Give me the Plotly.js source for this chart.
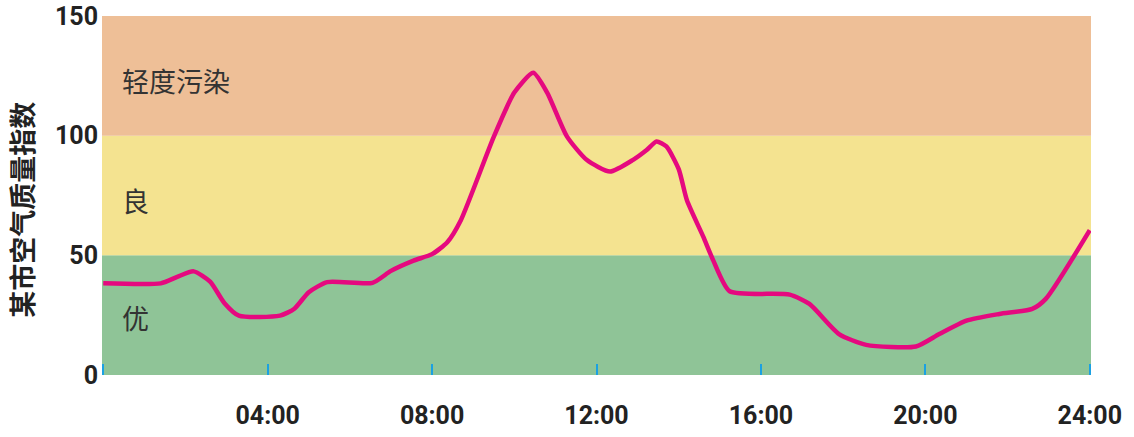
<!DOCTYPE html>
<html>
<head>
<meta charset="utf-8">
<script src="https://cdn.plot.ly/plotly-3.0.1.min.js"></script>
<style>html,body{margin:0;padding:0;background:#fff;}#chart{width:1134px;height:437px;}</style>
</head>
<body>
<div id="chart"></div>
<script>
const hours = [0, 1.4, 1.8, 2.2, 2.6, 2.95, 3.3, 4.3, 4.65, 5.0, 5.45, 6.55, 7.0, 7.55, 8.0, 8.37, 8.7, 9.5, 10.0, 10.46, 10.8, 11.28, 11.76, 12.33, 12.89, 13.22, 13.46, 13.7, 14.0, 14.2, 14.6, 14.84, 15.24, 16.7, 17.18, 17.9, 18.56, 19.77, 20.34, 21.0, 21.8, 22.6, 22.93, 24];
const aqi = [38.3, 38.3, 41, 43.3, 39, 30, 24.8, 24.8, 27.7, 34.6, 38.8, 38.5, 43.5, 47.8, 50.5, 55.5, 64.7, 99.5, 118, 126.3, 118, 99.7, 89.9, 85, 89.9, 94, 97.6, 95.5, 86, 73, 57.7, 47.9, 35, 33.6, 29.7, 17.1, 12.6, 11.9, 17.1, 22.7, 25.5, 27.6, 31.8, 60.5];
const tickHours = [0, 4, 8, 12, 16, 20, 24];
const tickLabels = ['', '04:00', '08:00', '12:00', '16:00', '20:00', '24:00'];
const bandNames = ['优', '良', '轻度污染'];
const bandLow = [0, 50, 100];
const bandHigh = [50, 100, 150];
const bandLabelY = [24, 73, 123];
const yTicks = [0, 50, 100, 150];
const bandColors = ['#8FC497', '#F4E390', '#EEBF97'];
const yTitle = '某市空气质量指数';

const shapes = bandNames.map((n, i) => ({
  type: 'rect', xref: 'paper', yref: 'y', x0: 0, x1: 1,
  y0: bandLow[i], y1: bandHigh[i], fillcolor: bandColors[i],
  line: {width: 0}, layer: 'below'
}));
const annotations = bandNames.map((n, i) => ({
  x: 0.4, y: bandLabelY[i], xref: 'x', yref: 'y', text: n, showarrow: false,
  xanchor: 'left', yanchor: 'middle',
  font: {family: 'Noto Sans CJK SC', size: 27, color: '#333'}
}));
annotations.push({
  xref: 'paper', yref: 'y', x: -0.081, y: 69, text: yTitle, textangle: -90,
  showarrow: false, xanchor: 'center', yanchor: 'middle',
  font: {family: 'Noto Sans CJK SC', size: 27, color: '#222', weight: 'bold'}
});

const trace = {
  x: hours, y: aqi, type: 'scatter', mode: 'lines',
  line: {color: '#E5097F', width: 4.5, shape: 'spline', smoothing: 0.6},
  hoverinfo: 'skip'
};

const tickFont = {family: 'Roboto, Liberation Sans, Arial, sans-serif', size: 25, color: '#222', weight: 'bold'};

const layout = {
  width: 1134, height: 437,
  margin: {l: 102, r: 43, t: 16, b: 62},
  paper_bgcolor: '#fff', plot_bgcolor: '#fff',
  showlegend: false,
  shapes: shapes,
  annotations: annotations,
  xaxis: {
    range: [-0.03, 24.03], tickmode: 'array', tickvals: tickHours, ticktext: tickLabels,
    ticks: 'inside', ticklen: 11, tickwidth: 2, tickcolor: '#1BA1E2',
    showgrid: false, zeroline: false, showline: false,
    ticklabelstandoff: 23,
    tickfont: tickFont
  },
  yaxis: {
    range: [0, 150], tickmode: 'array', tickvals: yTicks,
    ticks: '', showgrid: false, zeroline: false, showline: false,
    ticklabelstandoff: 3,
    tickfont: tickFont
  }
};

Plotly.newPlot('chart', [trace], layout, {displayModeBar: false, staticPlot: true});
</script>
</body>
</html>
